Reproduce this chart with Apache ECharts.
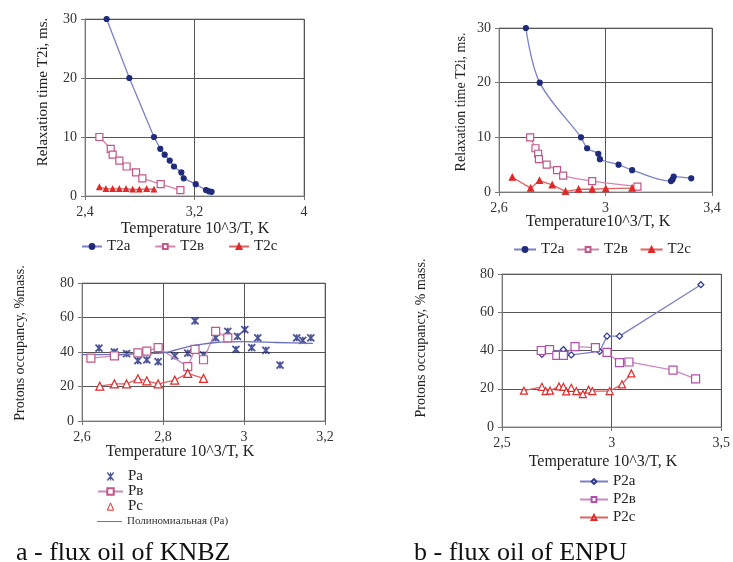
<!DOCTYPE html>
<html><head><meta charset="utf-8">
<script src="https://cdn.jsdelivr.net/npm/echarts@6/dist/echarts.min.js"></script>
<style>html,body{margin:0;padding:0;background:#fff}#c{width:733px;height:562px}</style>
</head><body><div id="c"></div>
<script>
// ---- data: panel a (top) relaxation times vs 10^3/T
const aT2a = [[2.558,30],[2.724,20],[2.904,10],[2.95,8],[2.982,7],[3.019,6],[3.05,5],[3.104,4],[3.121,3],[3.209,2],[3.284,1],[3.306,0.8],[3.325,0.7]];
const aT2b = [[2.505,10],[2.588,8],[2.602,7],[2.651,6],[2.704,5],[2.773,4],[2.819,3],[2.953,2],[3.097,1]];
const aT2c = [[2.505,1.5],[2.553,1.2],[2.602,1.2],[2.651,1.2],[2.7,1.2],[2.748,1.1],[2.797,1.1],[2.851,1.2],[2.904,1.1]];
// ---- panel b (top)
const bT2a = [[2.701,30],[2.753,20],[2.908,10],[2.931,8],[2.973,7],[2.979,6],[3.049,5],[3.1,4],[3.246,2],[3.252,2.3],[3.256,2.8],[3.322,2.5]];
const bT2b = [[2.717,10],[2.737,8],[2.747,7],[2.75,6],[2.779,5],[2.818,4],[2.841,3],[2.95,2],[3.12,1]];
const bT2c = [[2.65,2.7],[2.719,0.7],[2.752,2.1],[2.8,1.3],[2.85,0.1],[2.899,0.5],[2.95,0.5],[3.001,0.6],[3.1,0.7]];
// ---- panel a (bottom) proton occupancy
const aPa = [[2.642,42.3],[2.68,40],[2.71,39],[2.738,35],[2.76,35.5],[2.788,34.4],[2.829,37.7],[2.861,39.4],[2.879,58],[2.9,38.3],[2.93,48.2],[2.96,52],[2.984,49],[3.002,53],[2.98,41.5],[3.019,42.5],[3.034,48.2],[3.054,41],[3.089,32.4],[3.13,48.2],[3.145,46.8],[3.165,48.2]];
const aPb = [[2.622,36.5],[2.68,37.7],[2.738,39.5],[2.76,40.5],[2.788,42.5],[2.861,31.5],[2.879,41.5],[2.9,35.5],[2.93,52],[2.96,48.2]];
const aPc = [[2.644,20.2],[2.68,21.5],[2.71,21.5],[2.738,24.5],[2.76,23.3],[2.788,21.5],[2.829,23.7],[2.861,27.6],[2.9,24.7]];
const aPoly = [[2.6,38.5],[2.8,39.5],[2.86,43],[2.93,45.5],[3.0,46],[3.08,45.5],[3.17,45]];
// ---- panel b (bottom)
const bP2a = [[2.682,38],[2.78,40.5],[2.816,37.7],[2.945,39.5],[2.979,47.5],[3.036,47.5],[3.407,74.4]];
const bP2b = [[2.679,40],[2.717,40.5],[2.75,37.5],[2.78,37.5],[2.833,42],[2.926,41.5],[2.979,39],[3.036,33.7],[3.079,34],[3.28,29.7],[3.383,25.2]];
const bP2c = [[2.6,19],[2.682,21],[2.699,18.8],[2.719,19],[2.76,21.2],[2.78,21],[2.793,18.6],[2.816,20.5],[2.839,18.8],[2.869,17.2],[2.895,19.5],[2.912,18.8],[2.991,18.8],[3.047,22.3],[3.09,28]];

const FONT = '"Liberation Serif","Times New Roman",serif';
const NAVY = '#1f2b7b', LAV = '#7b80c8', PINK = '#c2568a', PINKL = '#d485ad', RED = '#e02a2a', REDL = '#e26060', POLY = '#6a6fc0';
const STAR = 'path://M0,0L10,10M10,0L0,10M5,0L5,10';

const fmt = v => String(+(+v).toFixed(2)).replace('.', ',');
function xAx(grid, min, max, interval) {
  return {type:'value', gridIndex:grid, min, max, interval,
    axisLine:{show:true, lineStyle:{color:'#777'}}, axisTick:{show:true, length:4, lineStyle:{color:'#777'}},
    axisLabel:{formatter:fmt, fontFamily:FONT, fontSize:14, color:'#333', margin:9},
    splitLine:{show:true, lineStyle:{color:'#555', width:1}}};
}
function yAx(grid, min, max, interval) {
  return {type:'value', gridIndex:grid, min, max, interval,
    axisLine:{show:true, lineStyle:{color:'#777'}}, axisTick:{show:true, length:4, lineStyle:{color:'#777'}},
    axisLabel:{fontFamily:FONT, fontSize:14, color:'#333', margin:8},
    splitLine:{show:true, lineStyle:{color:'#555', width:1}}};
}
function gtext(x, y, text, size, rot) {
  return {type:'text', x, y, rotation: rot ? Math.PI/2 : 0,
    style:{text, fontFamily:FONT, fontSize:size, fill:'#222', textAlign:'center', textVerticalAlign:'middle'}};
}
const lineS = (name, data, xi, sym, size, fill, stroke, lc, extra) => Object.assign({
  type:'line', name, data, xAxisIndex:xi, yAxisIndex:xi, symbol:sym, symbolSize:size,
  itemStyle:{color:fill, borderColor:stroke, borderWidth:1.2},
  lineStyle:{color:lc, width:1.3}, animation:false}, extra||{});

const chart = echarts.init(document.getElementById('c'), null, {renderer:'canvas'});
const gridBase = {show:true, borderColor:'#999', borderWidth:1, backgroundColor:'transparent'};
const legText = {fontFamily:FONT, fontSize:15, color:'#222'};
chart.setOption({
  animation:false,
  grid:[
    Object.assign({left:85, top:19, width:219, height:177}, gridBase),
    Object.assign({left:499, top:28, width:213, height:164}, gridBase),
    Object.assign({left:82, top:283, width:243, height:138}, gridBase),
    Object.assign({left:502, top:274, width:220, height:153}, gridBase)
  ],
  xAxis:[xAx(0,2.4,4,0.8), xAx(1,2.6,3.4,0.4), xAx(2,2.6,3.2,0.2), xAx(3,2.5,3.5,0.5)],
  yAxis:[yAx(0,0,30,10), yAx(1,0,30,10), yAx(2,0,80,20), yAx(3,0,80,20)],
  legend:[
    {data:['T2a','T2в','T2c'], left:76, top:234, itemWidth:20, itemHeight:6, itemGap:24, textStyle:legText},
    {data:['T2a ','T2в ','T2c '], left:508, top:237, itemWidth:22, itemHeight:6, itemGap:8, textStyle:legText},
    {data:[{name:'Pa', icon:'path://M0,5L0.01,5M8,0L16,10M16,0L8,10M12,0L12,10M24,5L24.01,5', itemStyle:{color:NAVY, borderColor:NAVY, borderWidth:1.3}},
           'Pв',
           {name:'Pc', icon:'path://M0,10L0.01,10M9,10L12,3L15,10ZM24,10L24.01,10', itemStyle:{color:'#fff', borderColor:RED, borderWidth:1}}],
     orient:'vertical', left:92, top:464, itemWidth:25, itemHeight:8, itemGap:0,
     textStyle:Object.assign({lineHeight:14}, legText)},
    {data:[{name:'Полиномиальная (Pa)', icon:'path://M0,0L25,0L25,1L0,1Z', itemStyle:{color:POLY, borderColor:POLY, borderWidth:0}}], left:92, top:511, itemWidth:25, itemHeight:1.5,
     textStyle:{fontFamily:FONT, fontSize:11, color:'#333'}},
    {data:['P2a','P2в','P2c'], orient:'vertical', left:574, top:469, itemWidth:28, itemHeight:6, itemGap:3,
     textStyle:Object.assign({lineHeight:14}, legText)}
  ],
  graphic:[
    gtext(195, 229, 'Temperature 10^3/T, K', 16),
    gtext(598, 222, 'Temperature10^3/T, K', 16),
    gtext(180, 452, 'Temperature 10^3/T, K', 16),
    gtext(603, 462, 'Temperature 10^3/T, K', 16),
    gtext(43, 92, 'Relaxation time T2i, ms.', 15, true),
    gtext(461, 102, 'Relaxation time T2i, ms.', 14, true),
    gtext(20, 343, 'Protons occupancy, %mass.', 14, true),
    gtext(421, 338, 'Protons occupancy, % mass.', 14, true),
    {type:'text', left:16, top:540, style:{text:'a - flux oil of KNBZ', fontFamily:FONT, fontSize:26, fill:'#111'}},
    {type:'text', left:414, top:540, style:{text:'b - flux oil of ENPU', fontFamily:FONT, fontSize:26, fill:'#111'}}
  ],
  series:[
    lineS('T2a', aT2a, 0, 'circle', 5, NAVY, NAVY, LAV),
    lineS('T2в', aT2b, 0, 'rect', 7, '#fff', PINK, PINKL),
    lineS('T2c', aT2c, 0, 'triangle', 5, RED, RED, REDL),
    lineS('T2a ', bT2a, 1, 'circle', 5, NAVY, NAVY, LAV, {smooth:0.35}),
    lineS('T2в ', bT2b, 1, 'rect', 7, '#fff', PINK, PINKL, {smooth:0.3}),
    lineS('T2c ', bT2c, 1, 'triangle', 6, RED, RED, REDL),
    {type:'scatter', name:'Pa', data:aPa, xAxisIndex:2, yAxisIndex:2, symbol:STAR, symbolSize:7,
     itemStyle:{color:NAVY, borderColor:NAVY, borderWidth:1.8}, animation:false},
    lineS('Pв', aPb, 2, 'rect', 8, '#fff', PINK, '#c98ab6'),
    lineS('Pc', aPc, 2, 'triangle', 8, '#fff', RED, REDL),
    lineS('Полиномиальная (Pa)', aPoly, 2, 'none', 0, POLY, POLY, POLY, {smooth:0.3}),
    lineS('P2a', bP2a, 3, 'diamond', 6, '#fff', '#2a3590', LAV),
    lineS('P2в', bP2b, 3, 'rect', 8, '#fff', '#b050a8', '#cc88c4'),
    lineS('P2c', bP2c, 3, 'triangle', 7, '#fff', RED, REDL)
  ]
});
</script></body></html>
